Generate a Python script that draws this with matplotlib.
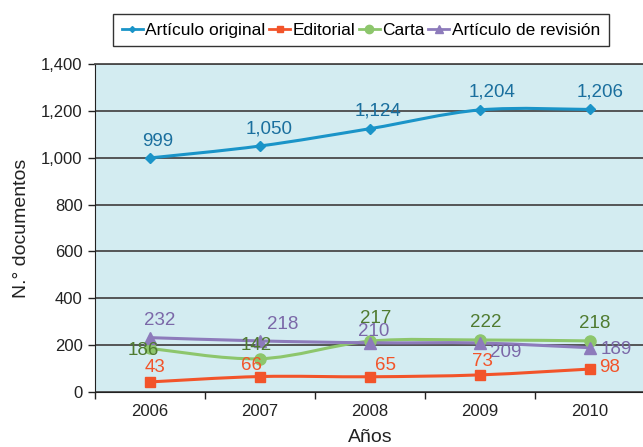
import numpy as np
import matplotlib
matplotlib.use("Agg")
import matplotlib.pyplot as plt
from matplotlib.path import Path
from matplotlib.patches import PathPatch
from matplotlib.lines import Line2D

plt.rcParams['font.family'] = ['Liberation Sans', 'DejaVu Sans']

years = ["2006", "2007", "2008", "2009", "2010"]
original = [999, 1050, 1124, 1204, 1206]
editorial = [43, 66, 65, 73, 98]
carta = [186, 142, 217, 222, 218]
revision = [232, 218, 210, 209, 189]

series_names = ["Artículo original", "Editorial", "Carta", "Artículo de revisión"]
line_colors = ["#1a94c8", "#f2542a", "#8dc66c", "#8d7bbb"]
text_colors = ["#1a6f9e", "#f2542a", "#4f7b30", "#7b68a8"]
markers = ["D", "s", "o", "^"]
msizes = [5, 7, 8, 8]

# label offsets in pixels (dx, dy)
offsets = [
    [(8, 16), (9, 17), (8, 18), (12, 18), (10, 17)],
    [(5, 14), (-8, 11), (15, 11), (2, 13), (20, 2)],
    [(-7, -2), (-4, 13), (6, 23), (6, 17), (5, 17)],
    [(10, 17), (23, 16), (4, 11), (26, -9), (26, -2)],
]

def smooth_path(xs, ys, t=1/6):
    verts = [(xs[0], ys[0])]
    codes = [Path.MOVETO]
    n = len(xs)
    for i in range(n - 1):
        p0 = (xs[max(i - 1, 0)], ys[max(i - 1, 0)])
        p1 = (xs[i], ys[i])
        p2 = (xs[i + 1], ys[i + 1])
        p3 = (xs[min(i + 2, n - 1)], ys[min(i + 2, n - 1)])
        c1 = (p1[0] + (p2[0] - p0[0]) * t, p1[1] + (p2[1] - p0[1]) * t)
        c2 = (p2[0] - (p3[0] - p1[0]) * t, p2[1] - (p3[1] - p1[1]) * t)
        verts += [c1, c2, p2]
        codes += [Path.CURVE4] * 3
    return Path(verts, codes)

fig = plt.figure(figsize=(6.43, 4.47), dpi=100)
ax = fig.add_axes([95 / 643, 1 - 392 / 447, 550 / 643, (392 - 64) / 447])
ax.set_facecolor("#d3ecf1")

x = np.arange(len(years))
all_series = [original, editorial, carta, revision]
for k, vals in enumerate(all_series):
    p = smooth_path(list(x), list(vals))
    ax.add_patch(PathPatch(p, facecolor="none", edgecolor=line_colors[k], lw=2.2, zorder=3))
    ax.plot(x, vals, linestyle="none", marker=markers[k], ms=msizes[k],
            color=line_colors[k], zorder=4)
    for i, v in enumerate(vals):
        dx, dy = offsets[k][i]
        ax.annotate(f"{v:,}", (x[i], v), xytext=(dx, dy), textcoords="offset pixels",
                    ha="center", va="center", fontsize=13.5, color=text_colors[k], zorder=5)

ax.set_xlim(-0.5, 4.5)
ax.set_ylim(0, 1400)
ax.set_yticks(range(0, 1401, 200))
ax.set_yticklabels([f"{v:,}" for v in range(0, 1401, 200)])
ax.set_xticks(x)
ax.set_xticklabels(years)
ax.set_xticks(np.arange(-0.5, 4.6, 1), minor=True)
ax.tick_params(axis="x", which="major", length=0, pad=9, labelsize=12, colors="#222222")
ax.tick_params(axis="x", which="minor", length=5, width=1, direction="out", color="#222222")
ax.tick_params(axis="y", length=5, width=1, direction="out", pad=4, labelsize=12, colors="#222222")
ax.yaxis.grid(True, color="#4a4a4a", lw=1.3)
ax.set_axisbelow(True)
ax.spines["right"].set_visible(False)
ax.spines["top"].set_color("#4a4a4a")
ax.spines["top"].set_linewidth(1.3)
ax.spines["left"].set_color("#222222")
ax.spines["bottom"].set_color("#222222")

ax.set_xlabel("Años", fontsize=14, color="#222222", labelpad=7)
ax.set_ylabel("N.° documentos", fontsize=14, color="#222222", labelpad=8)

handles = [Line2D([0], [0], color=line_colors[k], lw=2, marker=markers[k], ms=msizes[k] - 2)
           for k in range(4)]
leg = fig.legend(handles, series_names, loc="center", bbox_to_anchor=(361 / 643, 1 - 30 / 447),
                 ncol=4, frameon=True, fancybox=False, edgecolor="black", fontsize=12.5,
                 handlelength=1.2, handletextpad=0.15, columnspacing=0.2, borderpad=0.5,
                 borderaxespad=0)
leg.get_frame().set_linewidth(1.0)

fig.savefig("out.png", dpi=100)
